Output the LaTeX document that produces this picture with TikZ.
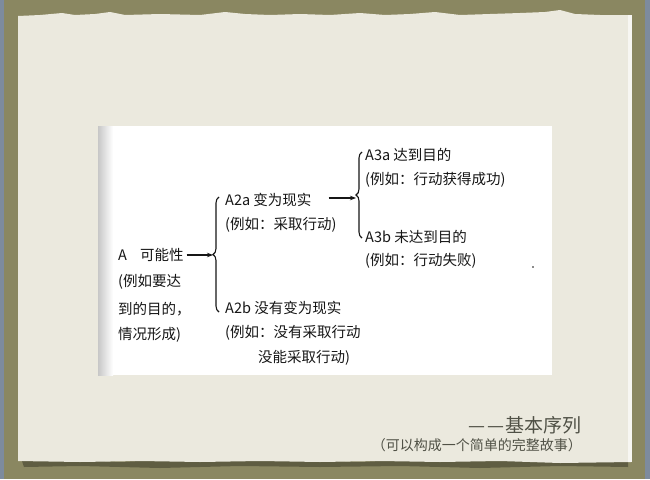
\documentclass[tikz,border=0pt]{standalone}
\usepackage{fontspec}
\newfontfamily\cjk{Noto Sans CJK SC}
\usetikzlibrary{decorations.pathreplacing,arrows.meta}
\definecolor{olive}{HTML}{8A8761}
\definecolor{slate}{HTML}{7D8B9E}
\definecolor{paper}{HTML}{EBE9DE}
\definecolor{ink}{HTML}{161616}
\definecolor{foot}{HTML}{505146}
\definecolor{edgeshadow}{HTML}{5F5D42}
\begin{document}
\begin{tikzpicture}[x=1pt,y=-1pt,
  txt/.style={font=\cjk\fontsize{14.5}{16}\selectfont, text=ink, anchor=west, inner sep=0pt},
  foottxt/.style={font=\cjk, text=foot, anchor=east, inner sep=0pt},
  brc/.style={decorate, decoration={brace, amplitude=6pt}, line width=1.1pt, draw=ink},
  arr/.style={-{Stealth[length=6pt,width=4.5pt]}, line width=1.1pt, draw=ink},
]
\useasboundingbox (0,0) rectangle (650,479);
% background frame
\fill[slate] (0,0) rectangle (650,479);
\fill[olive] (4,0) rectangle (645,479);
% paper shadow at bottom
\fill[edgeshadow] (22,461) -- (80,460) -- (120,462) -- (180,459) -- (240,461) -- (300,460)
  -- (360,462) -- (420,459) -- (480,461) -- (540,460) -- (600,462) -- (628,460)
  -- (628,467) -- (560,466) -- (480,468) -- (400,466) -- (320,467) -- (240,466)
  -- (160,468) -- (80,466) -- (24,467) -- cycle;
% paper with torn top edge
\fill[paper] (18,16) -- (40,15) -- (62,13) -- (75,15) -- (95,14) -- (110,12) -- (125,15)
  -- (160,14) -- (200,15) -- (225,12) -- (245,14) -- (270,15) -- (300,14) -- (330,15)
  -- (360,13) -- (385,15) -- (410,14) -- (435,12) -- (460,15) -- (490,14) -- (520,13)
  -- (545,12) -- (560,10) -- (575,14) -- (600,15) -- (631,15)
  -- (631,462) -- (560,463) -- (500,461) -- (440,462) -- (380,461) -- (320,462)
  -- (260,461) -- (200,462) -- (140,461) -- (80,462) -- (18,461) -- cycle;
\fill[white!60!paper] (628,15) rectangle (632,462);
% white panel with left shadow
\fill[white] (98,126) rectangle (552,375);
\shade[left color=black!22, right color=white] (98,126) rectangle (113,375);

% diagram
\node[txt] (A)  at (118,255) {A\hspace{13pt}可能性};
\node[txt] (a1) at (118,282) {(例如要达};
\node[txt] (a2) at (118,309) {到的目的，};
\node[txt] (a3) at (118,335) {情况形成)};

\coordinate (b1top) at (219,197);
\coordinate (b1bot) at (219,312);
\coordinate (b1tip) at (213,255);
\draw[brc] (b1bot) -- (b1top);
\draw[arr] ([xshift=3pt]A.east |- b1tip) -- (b1tip);

\node[txt] (A2a) at (225,200) {A2a 变为现实};
\node[txt] (a2a) at (225,225) {(例如：采取行动)};
\node[txt] (A2b) at (225,308) {A2b 没有变为现实};
\node[txt] (a2b1) at (225,333) {(例如：没有采取行动};
\node[txt] (a2b2) at (258,358) {没能采取行动)};

\coordinate (b2top) at (362,152);
\coordinate (b2bot) at (362,238);
\coordinate (b2tip) at (356,198);
\draw[brc] (b2bot) -- (b2top);
\draw[arr] ([xshift=17pt]A2a.east |- b2tip) -- (b2tip);

\node[txt] (A3a) at (365,155) {A3a 达到目的};
\node[txt] (a3a) at (365,180) {(例如：行动获得成功)};
\node[txt] (A3b) at (365,237) {A3b 未达到目的};
\node[txt] (a3b) at (365,261) {(例如：行动失败)};

\fill[ink] (533,267) circle (0.8);

% footer
\node[foottxt, font=\cjk\fontsize{19}{21}\selectfont] (t1) at (582,425) {—\hspace{2pt}—\hspace{1pt}基本序列};
\node[foottxt, font=\cjk\fontsize{14}{16}\selectfont] (t2) at (582,445) {（可以构成一个简单的完整故事）};
\end{tikzpicture}
\end{document}
